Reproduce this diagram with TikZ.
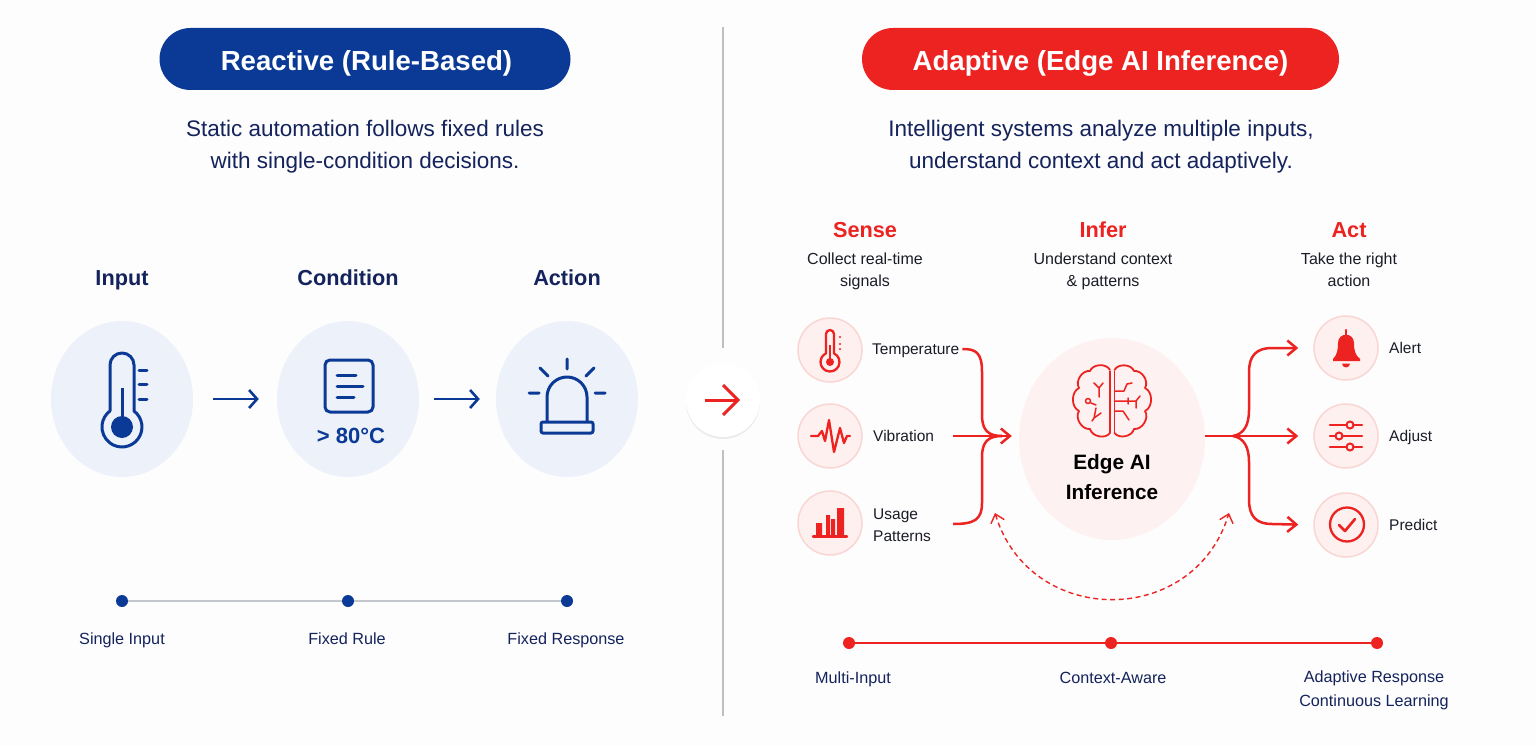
\documentclass[tikz,border=0pt]{standalone}
\usepackage{fontspec}
\setmainfont{Liberation Sans}
\usetikzlibrary{arrows.meta}
\usetikzlibrary{shapes.geometric}
\usetikzlibrary{shadows}
\definecolor{reactblue}{HTML}{0B3A96}
\definecolor{adaptred}{HTML}{EC2320}
\definecolor{inkblue}{HTML}{14235C}
\definecolor{softblue}{HTML}{EDF1FA}
\definecolor{softred}{HTML}{FDF0EF}
\definecolor{ringred}{HTML}{F9D6D3}
\definecolor{pagewhite}{HTML}{FDFDFE}
\definecolor{dividergray}{HTML}{BDBFC4}
\definecolor{railgray}{HTML}{C4C7CE}
\definecolor{labelblack}{HTML}{1A1D26}
\tikzset{
	pillstyle/.style={rectangle,rounded corners=31pt,minimum height=62pt},
	titlestyle/.style={text=white,text height=20pt,text depth=0pt,inner sep=0pt,font=\bfseries\fontsize{27.6}{34}\selectfont},
	leadstyle/.style={align=center,text=inkblue,font=\fontsize{22.5}{32}\selectfont},
	headstyle/.style={text=inkblue,text height=16pt,text depth=0pt,inner sep=0pt,font=\bfseries\fontsize{21.7}{26}\selectfont},
	redheadstyle/.style={headstyle,text=adaptred},
	substyle/.style={align=center,text=labelblack,font=\fontsize{16}{22}\selectfont},
	discstyle/.style={ellipse,fill=softblue,minimum width=142pt,minimum height=156pt,inner sep=0pt},
	ringstyle/.style={circle,fill=softred,draw=ringred,line width=1.5pt,minimum size=64pt,inner sep=0pt},
	sideblock/.style={anchor=west,inner sep=0pt,align=left,text=labelblack,font=\fontsize{15.5}{22.5}\selectfont},
	sidestyle/.style={sideblock,text height=11pt,text depth=0pt},
	bluedot/.style={circle,fill=reactblue,minimum size=12pt,inner sep=0pt},
	reddot/.style={circle,fill=adaptred,minimum size=12pt,inner sep=0pt},
	railblock/.style={align=center,text=inkblue,font=\fontsize{16.2}{24}\selectfont},
	railnote/.style={railblock,text height=12pt,text depth=0pt,inner sep=0pt},
	blueline/.style={draw=reactblue,line width=3pt,line cap=round,line join=round},
	blueflow/.style={draw=reactblue,line width=2.6pt,-{Straight Barb[length=8pt,width=18pt]}},
	redline/.style={draw=adaptred,line width=2.3pt,line cap=round,line join=round},
	redflow/.style={draw=adaptred,line width=2.5pt},
	redtip/.style={-{Straight Barb[length=9pt,width=15pt]}}
}
\begin{document}
\begin{tikzpicture}[x=1pt,y=-1pt]
	\fill[pagewhite] (0,0) rectangle (1536,746);
	\useasboundingbox (0,0) rectangle (1536,746);
	\node[pillstyle,fill=reactblue,minimum width=411pt] (reactpill) at (365,59) {};
	\node[pillstyle,fill=adaptred,minimum width=477pt] (adaptpill) at (1100.5,59) {};
	\node[titlestyle] (reacttitle) at (366.5,61) {Reactive (Rule-Based)};
	\node[titlestyle] (adapttitle) at (1100.5,61) {Adaptive (Edge AI Inference)};
	\node[leadstyle] (reactlead) at (365,147) {Static automation follows fixed rules\\with single-condition decisions.};
	\node[leadstyle] (adaptlead) at (1101,147) {Intelligent systems analyze multiple inputs,\\understand context and act adaptively.};
	\coordinate (dividertop) at (723,27);
	\coordinate (dividerbottom) at (723,716);
	\node[circle,fill=white,minimum size=74pt,inner sep=0pt,drop shadow={opacity=.14,shadow xshift=0pt,shadow yshift=-2pt}] (swapdisc) at (723,400) {};
	\draw[draw=dividergray,line width=1.5pt,shorten >=15pt] (dividertop)--(swapdisc);
	\draw[draw=dividergray,line width=1.5pt,shorten >=13pt] (dividerbottom)--(swapdisc);
	\draw[draw=adaptred,line width=3pt,shorten <=19pt,shorten >=20pt,-{Straight Barb[length=15pt,width=30pt]}] (swapdisc.west)--(swapdisc.east);

	\node[headstyle] (inputhead) at (122,277) {Input};
	\node[headstyle] (condhead) at (348,277) {Condition};
	\node[headstyle] (actionhead) at (567,277) {Action};
	\node[discstyle] (inputdisc) at (122,399) {};
	\node[discstyle] (conddisc) at (348,399) {};
	\node[discstyle] (actiondisc) at (567,399) {};
	\draw[blueflow,shorten <=20pt,shorten >=18pt] (inputdisc)--(conddisc);
	\draw[blueflow,shorten <=15pt,shorten >=16pt] (conddisc)--(actiondisc);
	\draw[blueline] (110,411)--(110,365) arc (180:360:12) -- (134,411) arc (-53:233:20) -- cycle;
	\draw[draw=reactblue,line width=3pt] (122,388)--(122,420);
	\fill[reactblue] (122,427) circle (11);
	\draw[blueline] (139,370)--(147,370) (139,384)--(147,384) (139,399)--(147,399);
	\draw[blueline,rounded corners=5pt] (325,360) rectangle (373,412);
	\draw[blueline] (337,375)--(356,375) (337,386)--(363,386) (337,397)--(354,397);
	\node[text=reactblue,font=\bfseries\fontsize{22}{26}\selectfont] (condtext) at (351,436) {> 80°C};
	\draw[blueline] (547,421)--(547,397) arc (180:360:20) -- (587,421);
	\draw[blueline,rounded corners=2pt] (541,422) rectangle (593,433);
	\draw[blueline] (567,359)--(567,369) (540,368)--(548,376) (594,368)--(586,376) (529,393)--(539,393) (595,393)--(605,393);
	\node[bluedot] (inputdot) at (122,601) {};
	\node[bluedot] (conddot) at (348,601) {};
	\node[bluedot] (actiondot) at (567,601) {};
	\draw[draw=railgray,line width=2pt] (inputdot)--(conddot);
	\draw[draw=railgray,line width=2pt] (conddot)--(actiondot);
	\node[railnote] (inputnote) at (122,638) {Single Input};
	\node[railnote] (condnote) at (347,638) {Fixed Rule};
	\node[railnote] (actionnote) at (566,638) {Fixed Response};

	\node[redheadstyle] (sensehead) at (865,229) {Sense};
	\node[redheadstyle] (inferhead) at (1103,229) {Infer};
	\node[redheadstyle] (acthead) at (1349,229) {Act};
	\node[substyle] (sensesub) at (865,271) {Collect real-time\\signals};
	\node[substyle] (infersub) at (1103,271) {Understand context\\\& patterns};
	\node[substyle] (actsub) at (1349,270) {Take the right\\action};

	\node[ringstyle] (tempring) at (830,350) {};
	\node[ringstyle] (vibring) at (830,436) {};
	\node[ringstyle] (usagering) at (830,523) {};
	\node[sidestyle] (templabel) at (872,349) {Temperature};
	\node[sidestyle] (viblabel) at (873,436) {Vibration};
	\node[sideblock] (usagelabel) at (873,525) {Usage\\Patterns};
	\node[ellipse,fill=softred!85!white,minimum width=186pt,minimum height=202pt,inner sep=0pt] (edgedisc) at (1112,439) {};
	\node[align=center,text=black,font=\bfseries\fontsize{20.8}{30}\selectfont] (edgetext) at (1112,477) {Edge AI\\Inference};
	\node[ringstyle] (alertring) at (1346,348) {};
	\node[ringstyle] (adjustring) at (1346,436) {};
	\node[ringstyle] (predictring) at (1346,525) {};
	\node[sidestyle] (alertlabel) at (1389,348) {Alert};
	\node[sidestyle] (adjustlabel) at (1389,436) {Adjust};
	\node[sidestyle] (predictlabel) at (1389,525) {Predict};

	\draw[redline] (826,353.4)--(826,334) arc (180:360:4) -- (834,353.4) arc (-65:245:9.5) -- cycle;
	\fill[adaptred] (830,362) circle (4);
	\draw[draw=adaptred,line width=1.5pt] (830,345)--(830,362);
	\fill[adaptred] (840,337) circle (1.1) (840,344) circle (1.1) (840,349) circle (1.1);
	\draw[redline] (811,436)--(818,436)--(822,431)--(825,441)--(829,420)--(834,452)--(840,428)--(844,443)--(847,436)--(850,436);
	\fill[adaptred] (816,523) rectangle (822,536) (826,515) rectangle (830,536) (831,519) rectangle (835,536) (837,508) rectangle (844,536);
	\draw[redline] (813,536.5)--(847,536.5);
	\fill[adaptred] (1333,361)--(1333,359) .. controls (1337,355) and (1338,350) .. (1338,343) .. controls (1338,332) and (1354,332) .. (1354,343) .. controls (1354,350) and (1355,355) .. (1360,359)--(1360,361)--cycle;
	\draw[redline] (1346,330)--(1346,335);
	\fill[adaptred] (1342,363.5)--(1350,363.5) arc (0:180:4)--cycle;
	\draw[redline] (1330,425)--(1362,425) (1330,436)--(1362,436) (1330,447)--(1362,447);
	\filldraw[draw=adaptred,fill=softred,line width=2pt] (1350,425) circle (3.5) (1339,436) circle (3.5) (1350,447) circle (3.5);
	\draw[redline] (1347,524.5) circle (17);
	\draw[redline,line width=2.6pt] (1339,525)--(1345,531)--(1355,519);

	\draw[draw=adaptred,line width=1.8pt] (1110,371)--(1110,433) (1114.5,371)--(1114.5,433);
	\draw[redline,line width=1.8pt] (1110,370) to[bend right=65] (1090,371) to[bend right=65] (1079,388) to[bend right=65] (1079,411) to[bend right=65] (1090,429) to[bend right=65] (1110,433);
	\draw[redline,line width=1.8pt] (1114.5,370) to[bend left=65] (1134,371) to[bend left=65] (1145,388) to[bend left=65] (1145,411) to[bend left=65] (1134,429) to[bend left=65] (1114.5,433);
	\draw[redline,line width=1.5pt] (1114.5,391)--(1124,391)--(1127,384)--(1132,383) (1114.5,401)--(1136,401) (1128,398)--(1128,404) (1136,401)--(1140,396) (1136,401)--(1136,408) (1114.5,411)--(1123,411)--(1129,420);
	\draw[redline,line width=1.5pt] (1094,383)--(1099,388)--(1099,397) (1099,388)--(1103,383) (1094,418)--(1096,408) (1094,418)--(1101,413) (1094,418)--(1092,421);
	\draw[redline,line width=1.5pt] (1088,401) circle (2.5) (1091,403)--(1096,405);

	\coordinate (inhub) at (1002,436);
	\coordinate (outhub) at (1233,436);
	\coordinate (vibtail) at (953,436);
	\coordinate (usagetail) at (953,524);
	\draw[redflow,shorten <=3pt] (templabel.east) .. controls +(16,0) and (982,352) .. (982,372) -- (982,415) .. controls (982,430) and (988,436) .. (inhub);
	\draw[redflow] (usagetail) .. controls (974,524) and (982,520) .. (982,503) -- (982,457) .. controls (982,442) and (988,436) .. (inhub);
	\draw[redflow,redtip,shorten >=7pt] (vibtail)--(edgedisc.west |- vibtail);
	\draw[redflow] (edgedisc.east |- outhub)--(outhub);
	\draw[redflow,redtip,shorten >=15pt] (outhub)--(adjustring.west);
	\draw[redflow,redtip,shorten >=15pt] (outhub) .. controls (1244,434) and (1249,425) .. (1249,410) -- (1249,372) .. controls (1249,356) and (1256,348) .. (1272,348) -- (alertring.west);
	\draw[redflow,redtip,shorten >=15pt] (outhub) .. controls (1244,438) and (1249,447) .. (1249,462) -- (1249,500) .. controls (1249,516) and (1256,524) .. (1272,524) -- (predictring.west);

	\coordinate (loopleft) at (995,513);
	\coordinate (loopright) at (1229,513);
	\draw[draw=adaptred,line width=1.4pt,dash pattern=on 5pt off 3.5pt,{Straight Barb[length=8pt,width=14pt]}-{Straight Barb[length=8pt,width=14pt]}] (loopleft) .. controls (1030,628) and (1194,628) .. (loopright);

	\node[reddot] (multidot) at (849,643) {};
	\node[reddot] (contextdot) at (1111,643) {};
	\node[reddot] (adaptdot) at (1377,643) {};
	\draw[draw=adaptred,line width=2pt] (multidot)--(contextdot);
	\draw[draw=adaptred,line width=2pt] (contextdot)--(adaptdot);
	\node[railnote] (multinote) at (853,677) {Multi-Input};
	\node[railnote] (contextnote) at (1113,677) {Context-Aware};
	\node[railblock] (adaptnote) at (1374,690) {Adaptive Response\\Continuous Learning};
\end{tikzpicture}
\end{document}
